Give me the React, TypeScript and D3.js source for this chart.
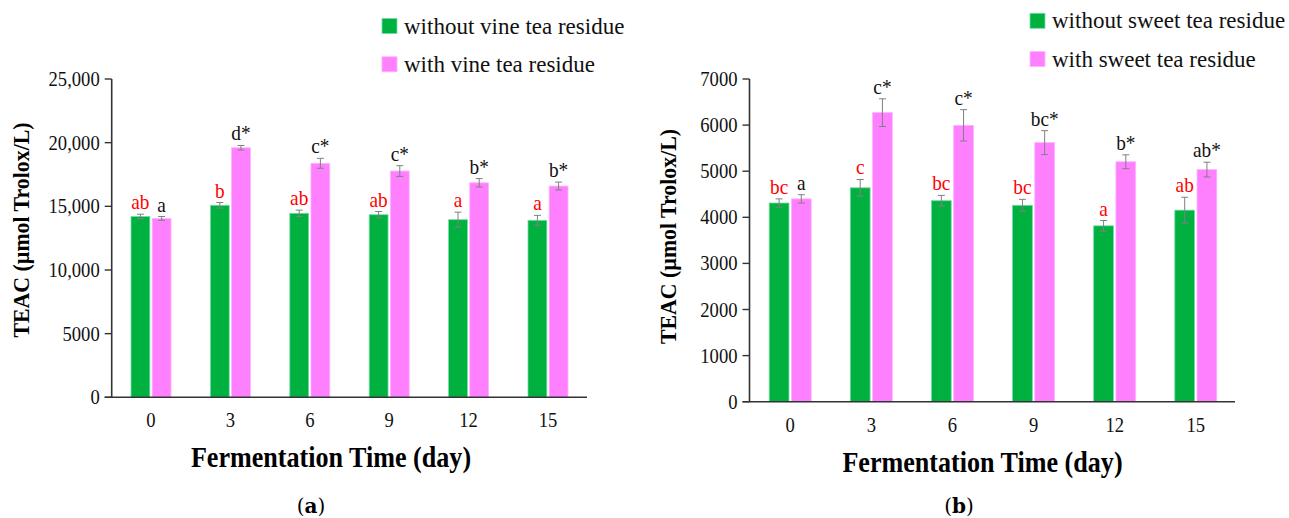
import React from 'react'
import * as d3 from 'd3'

const days = ['0', '3', '6', '9', '12', '15']
const groups = ['without', 'with']

// panel (a): vine tea residue
const vineWithout = [14200, 15080, 14450, 14340, 13950, 13900]
const vineWithoutErr = [180, 220, 250, 250, 590, 390]
const vineWith = [14050, 19600, 18380, 17770, 16850, 16590]
const vineWithErr = [150, 180, 390, 420, 330, 310]
const vineWithoutLetters = ['ab', 'b', 'ab', 'ab', 'a', 'a']
const vineWithLetters = ['a', 'd*', 'c*', 'c*', 'b*', 'b*']
const vineTicks = [0, 5000, 10000, 15000, 20000, 25000]

// panel (b): sweet tea residue
const sweetWithout = [4310, 4640, 4360, 4260, 3815, 4155]
const sweetWithoutErr = [90, 180, 115, 130, 115, 280]
const sweetWith = [4400, 6270, 5995, 5620, 5205, 5035]
const sweetWithErr = [90, 300, 340, 260, 150, 160]
const sweetWithoutLetters = ['bc', 'c', 'bc', 'bc', 'a', 'ab']
const sweetWithLetters = ['a', 'c*', 'c*', 'bc*', 'b*', 'ab*']
const sweetTicks = [0, 1000, 2000, 3000, 4000, 5000, 6000, 7000]

const GREEN = '#00b140'
const PINK = '#ff80ff'
const FONT = '"Liberation Serif", "Times New Roman", serif'

type PanelProps = {
  axisX: number
  axisEnd: number
  yTop: number
  yBottom: number
  firstX: number
  lastX: number
  groupW: number
  max: number
  ticks: number[]
  fmt: (v: number) => string
  without: number[]
  withoutErr: number[]
  withV: number[]
  withErr: number[]
  withoutLetters: string[]
  withLetters: string[]
  legendX: number
  legendY: number
  legend: [string, string]
  titleX: number
  tag: string
  tagX: number
  yLabelX: number
  yLabelY: number
}

// the original figure uses a slightly condensed serif
const squeeze = (x: number, y: number, sx: number) => `translate(${x},${y}) scale(${sx},1)`

function Panel(p: PanelProps) {
  const y = d3.scaleLinear().domain([0, p.max]).range([p.yBottom, p.yTop])
  const x = d3.scalePoint().domain(days).range([p.firstX, p.lastX])
  const sub = d3.scaleBand().domain(groups).range([-p.groupW / 2, p.groupW / 2]).paddingInner(0.11)
  const bw = sub.bandwidth()
  const series = [
    { key: 'without', vals: p.without, err: p.withoutErr, letters: p.withoutLetters, fill: GREEN, stroke: '#6fdcaa', lc: '#ff0000' },
    { key: 'with', vals: p.withV, err: p.withErr, letters: p.withLetters, fill: PINK, stroke: '#ffb3ff', lc: '#111' },
  ]
  return (
    <g fontFamily={FONT}>
      {series.map(s =>
        days.map((d, i) => {
          const bx = (x(d) as number) + (sub(s.key) as number)
          const cx = bx + bw / 2
          const top = y(s.vals[i])
          const eTop = y(s.vals[i] + s.err[i])
          const eBot = y(s.vals[i] - s.err[i])
          return (
            <g key={s.key + d}>
              <rect x={bx} y={top} width={bw} height={p.yBottom - top} fill={s.fill} stroke={s.stroke} strokeWidth={0.8} />
              <g stroke="#808080" strokeWidth={1}>
                <line x1={cx} x2={cx} y1={eTop} y2={eBot} />
                <line x1={cx - 3.5} x2={cx + 3.5} y1={eTop} y2={eTop} />
                <line x1={cx - 3.5} x2={cx + 3.5} y1={eBot} y2={eBot} />
              </g>
              <text transform={squeeze(cx, eTop - 5, 0.92)} textAnchor="middle" fontSize={21} fill={s.lc}>
                {s.letters[i]}
              </text>
            </g>
          )
        })
      )}
      {/* axes */}
      <line x1={p.axisX - 7} x2={p.axisEnd} y1={p.yBottom} y2={p.yBottom} stroke="#333" strokeWidth={1.6} />
      <line x1={p.axisX} x2={p.axisX} y1={p.yTop} y2={p.yBottom} stroke="#333" strokeWidth={1.6} />
      {p.ticks.map(t => (
        <g key={t}>
          <line x1={p.axisX - 7} x2={p.axisX} y1={y(t)} y2={y(t)} stroke="#333" strokeWidth={1.4} />
          <text transform={squeeze(p.axisX - 12, y(t) + 7, 0.93)} textAnchor="end" fontSize={20} fill="#111">
            {p.fmt(t)}
          </text>
        </g>
      ))}
      {days.map(d => (
        <text key={d} transform={squeeze(x(d) as number, p.yBottom + 30, 0.93)} textAnchor="middle" fontSize={20} fill="#111">
          {d}
        </text>
      ))}
      <text transform={squeeze(p.titleX, p.yBottom + 70, 0.9)} textAnchor="middle" fontSize={29} fontWeight="bold" fill="#000">
        Fermentation Time (day)
      </text>
      <text
        transform={`translate(${p.yLabelX},${p.yLabelY}) rotate(-90) scale(0.95,1)`}
        textAnchor="middle"
        fontSize={23}
        fontWeight="bold"
        fill="#000"
      >
        TEAC (µmol Trolox/L)
      </text>
      {/* legend */}
      {series.map((s, i) => (
        <g key={'lg' + s.key}>
          <rect x={p.legendX} y={p.legendY + i * 38.3 - 15} width={15} height={15} fill={s.fill} stroke={s.stroke} strokeWidth={0.8} />
          <text x={p.legendX + 22} y={p.legendY + i * 38.3} fontSize={23} fill="#111">
            {p.legend[i]}
          </text>
        </g>
      ))}
      <text x={p.tagX} y={513} textAnchor="middle" fontSize={20} fontFamily='"DejaVu Serif", serif' fill="#000">
        (<tspan fontWeight="bold">{p.tag}</tspan>)
      </text>
    </g>
  )
}

export default function App() {
  const comma = d3.format(',')
  return (
    <svg width={1289} height={518} style={{ position: 'absolute', left: 0, top: 0, background: '#fff' }}>
      <rect width={1289} height={518} fill="#fff" />
      <Panel
        axisX={111.7}
        axisEnd={587}
        yTop={79}
        yBottom={397.3}
        firstX={151}
        lastX={548}
        groupW={40}
        max={25000}
        ticks={vineTicks}
        fmt={v => (v >= 10000 ? comma(v) : String(v))}
        without={vineWithout}
        withoutErr={vineWithoutErr}
        withV={vineWith}
        withErr={vineWithErr}
        withoutLetters={vineWithoutLetters}
        withLetters={vineWithLetters}
        legendX={382}
        legendY={33.5}
        legend={['without vine tea residue', 'with vine tea residue']}
        titleX={331}
        tag="a"
        tagX={311}
        yLabelX={28.5}
        yLabelY={230}
      />
      <Panel
        axisX={749.5}
        axisEnd={1235}
        yTop={79}
        yBottom={401.7}
        firstX={790.2}
        lastX={1195.8}
        groupW={42}
        max={7000}
        ticks={sweetTicks}
        fmt={v => String(v)}
        without={sweetWithout}
        withoutErr={sweetWithoutErr}
        withV={sweetWith}
        withErr={sweetWithErr}
        withoutLetters={sweetWithoutLetters}
        withLetters={sweetWithLetters}
        legendX={1030}
        legendY={28.3}
        legend={['without sweet tea residue', 'with sweet tea residue']}
        titleX={982.5}
        tag="b"
        tagX={959}
        yLabelX={675.5}
        yLabelY={236.5}
      />
    </svg>
  )
}
